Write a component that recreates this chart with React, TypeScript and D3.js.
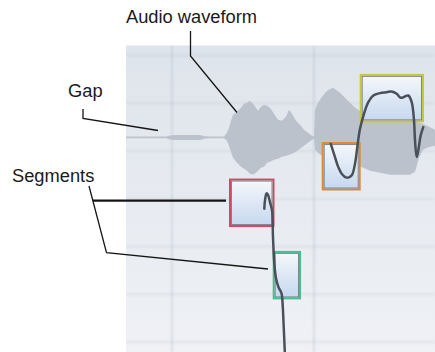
import React from 'react';
import * as d3 from 'd3';

// ---- data ----
const waveTime = [0.0, 0.4, 0.44, 0.49, 0.74, 0.79, 0.84, 0.98, 1.01, 1.03, 1.05, 1.07, 1.11, 1.15, 1.18, 1.21, 1.24, 1.27, 1.3, 1.32, 1.35, 1.38, 1.41, 1.44, 1.48, 1.52, 1.56, 1.6, 1.63, 1.66, 1.7, 1.74, 1.78, 1.82, 1.86, 1.88, 1.89, 1.92, 1.96, 2.01, 2.07, 2.14, 2.21, 2.28, 2.35, 2.44, 2.54, 2.64, 2.74, 2.84, 2.89, 2.93, 2.97, 3.01, 3.05, 3.09];
const waveTop = [0.014, 0.014, 0.036, 0.046, 0.046, 0.02, 0.014, 0.014, 0.09, 0.19, 0.33, 0.45, 0.51, 0.59, 0.67, 0.69, 0.73, 0.67, 0.59, 0.53, 0.61, 0.65, 0.63, 0.59, 0.47, 0.35, 0.33, 0.41, 0.55, 0.47, 0.33, 0.25, 0.15, 0.09, 0.03, 0.01, 0.55, 0.69, 0.81, 0.93, 0.99, 0.89, 0.75, 0.61, 0.51, 0.45, 0.41, 0.39, 0.37, 0.35, 0.33, 0.29, 0.27, 0.23, 0.19, 0.15];
const waveBottom = [-0.018, -0.018, -0.044, -0.054, -0.054, -0.024, -0.018, -0.018, -0.07, -0.17, -0.29, -0.41, -0.51, -0.59, -0.63, -0.67, -0.73, -0.75, -0.71, -0.67, -0.61, -0.59, -0.51, -0.49, -0.45, -0.43, -0.39, -0.37, -0.35, -0.33, -0.29, -0.23, -0.17, -0.11, -0.05, -0.03, -0.25, -0.31, -0.37, -0.41, -0.45, -0.49, -0.53, -0.57, -0.59, -0.67, -0.71, -0.75, -0.75, -0.75, -0.69, -0.41, -0.25, -0.21, -0.19, -0.17];

const pitchTime1 = [1.383, 1.39, 1.405, 1.42, 1.44, 1.46, 1.47, 1.483, 1.5, 1.525, 1.555, 1.567, 1.575, 1.583, 1.59];
const pitchVal1 = [59.17, 59.87, 60.45, 60.33, 59.7, 59.03, 56.77, 54.59, 53.34, 52.59, 52.08, 51.08, 49.66, 48.15, 46.81];
const pitchTime2 = [2.047, 2.09, 2.123, 2.157, 2.207, 2.257, 2.29, 2.313, 2.34, 2.38, 2.423, 2.473, 2.54, 2.607, 2.657, 2.707, 2.747, 2.79, 2.823, 2.857, 2.88, 2.89, 2.907, 2.923, 2.947, 2.973];
const pitchVal2 = [64.61, 63.49, 62.65, 62.1, 61.77, 61.96, 62.94, 64.33, 65.87, 67.12, 68.09, 68.65, 68.85, 68.93, 68.99, 68.79, 68.46, 68.57, 68.65, 68.09, 66.56, 64.89, 63.49, 64.05, 65.31, 66.0];

const segStart = [1.03, 1.467, 1.957, 2.337];
const segEnd = [1.485, 1.75, 2.347, 2.98];
const segPitch = [59.66, 53.6, 62.72, 68.43];
const segHalfRange = 2.03;

const gridTimes = [0.46, 1.88];
const gridPitches = [72, 68, 64, 60, 56, 52, 48];

const labels = ['Audio waveform', 'Gap', 'Segments'];

// ---- styles ----
const segColors = ['#d24864', '#40c28e', '#df8a32', '#c8c83c'];
const FONT = '"Liberation Sans", Arial, Helvetica, sans-serif';

export default function App() {
  const W = 435, H = 352;
  const panel = { x0: 126, x1: 435, y0: 45.5, y1: 352 };
  const x = d3.scaleLinear().domain([0, 3.09]).range([panel.x0, panel.x1]);
  const y = d3.scaleLinear().domain([72, 48]).range([55.5, 342]);
  const amp = d3.scaleLinear().domain([-1, 1]).range([187.3, 87.3]);

  const waveData = waveTime.map((t, i) => ({ t, top: waveTop[i], bot: waveBottom[i] }));
  const area = d3.area<any>()
    .x((d) => x(d.t))
    .y0((d) => amp(d.bot))
    .y1((d) => amp(d.top))
    .curve(d3.curveLinear);

  const line = d3.line<[number, number]>()
    .x((d) => x(d[0]))
    .y((d) => y(d[1]))
    .curve(d3.curveCatmullRom.alpha(0.5));

  const p1 = pitchTime1.map((t, i) => [t, pitchVal1[i]] as [number, number]);
  const p2 = pitchTime2.map((t, i) => [t, pitchVal2[i]] as [number, number]);

  const leader = (pts: number[][]) => d3.line()(pts as any) || '';

  return (
    <svg width={W} height={H} style={{ position: 'fixed', left: 0, top: 0, background: '#fff' }}>
      <defs>
        <linearGradient id="bg" x1="0" y1="0" x2="0" y2="1">
          <stop offset="0" stopColor="#dee4eb" />
          <stop offset="0.5" stopColor="#e7ebf1" />
          <stop offset="1" stopColor="#eff1f5" />
        </linearGradient>
        <linearGradient id="boxfill" x1="0" y1="0" x2="0" y2="1">
          <stop offset="0" stopColor="#f6f8fb" />
          <stop offset="1" stopColor="#c5d7ef" />
        </linearGradient>
        <clipPath id="pclip">
          <rect x={panel.x0} y={panel.y0} width={panel.x1 - panel.x0} height={panel.y1 - panel.y0} />
        </clipPath>
        <filter id="soft" x="-5%" y="-50%" width="110%" height="200%">
          <feGaussianBlur stdDeviation="0.8" />
        </filter>
      </defs>

      <rect x={panel.x0} y={panel.y0} width={panel.x1 - panel.x0} height={panel.y1 - panel.y0} fill="url(#bg)" />

      <g clipPath="url(#pclip)" filter="url(#soft)">
        {gridPitches.map((p) => (
          <line key={'h' + p} x1={panel.x0} x2={panel.x1} y1={y(p)} y2={y(p)} stroke="#a8b3c2" strokeOpacity={0.2} strokeWidth={2.5} />
        ))}
        {gridTimes.map((t) => (
          <line key={'v' + t} x1={x(t)} x2={x(t)} y1={panel.y0} y2={panel.y1} stroke="#a9b2be" strokeOpacity={0.4} strokeWidth={1.6} />
        ))}
      </g>

      <g clipPath="url(#pclip)">
        <path d={area(waveData) || ''} fill="#bbc2cc" />
      </g>

      {segStart.map((s, i) => {
        const bx0 = x(s), bx1 = x(segEnd[i]);
        const by0 = y(segPitch[i] + segHalfRange), by1 = y(segPitch[i] - segHalfRange);
        return (
          <g key={'seg' + i}>
            <rect x={bx0 + 1} y={by0 + 1} width={bx1 - bx0 - 2} height={by1 - by0 - 2} fill="url(#boxfill)" stroke={segColors[i]} strokeWidth={2} />
            <rect x={bx0 + 2.5} y={by0 + 2.5} width={bx1 - bx0 - 5} height={by1 - by0 - 5} fill="none" stroke="#80868e" strokeWidth={1} />
          </g>
        );
      })}

      <g clipPath="url(#pclip)" fill="none" stroke="#4a5059" strokeWidth={2.5} strokeLinecap="round" strokeLinejoin="round">
        <path d={line(p1) || ''} />
        <path d={line(p2) || ''} />
      </g>

      <g fill="none" stroke="#151515" strokeWidth={1.3}>
        <path d={leader([[190.5, 31], [190.5, 56], [237, 112.5]])} />
        <path d={leader([[83, 109], [83, 118.5], [158, 130.5]])} />
        <path d={leader([[93, 200.7], [226, 200.7]])} strokeWidth={2.2} />
        <path d={leader([[89, 186], [106.5, 252.7], [268, 269]])} />
      </g>

      <g fontFamily={FONT} fontSize={18.3} fill="#1a1a1a">
        <text x={126} y={23.3}>{labels[0]}</text>
        <text x={68} y={97}>{labels[1]}</text>
        <text x={12} y={181.5}>{labels[2]}</text>
      </g>
    </svg>
  );
}
